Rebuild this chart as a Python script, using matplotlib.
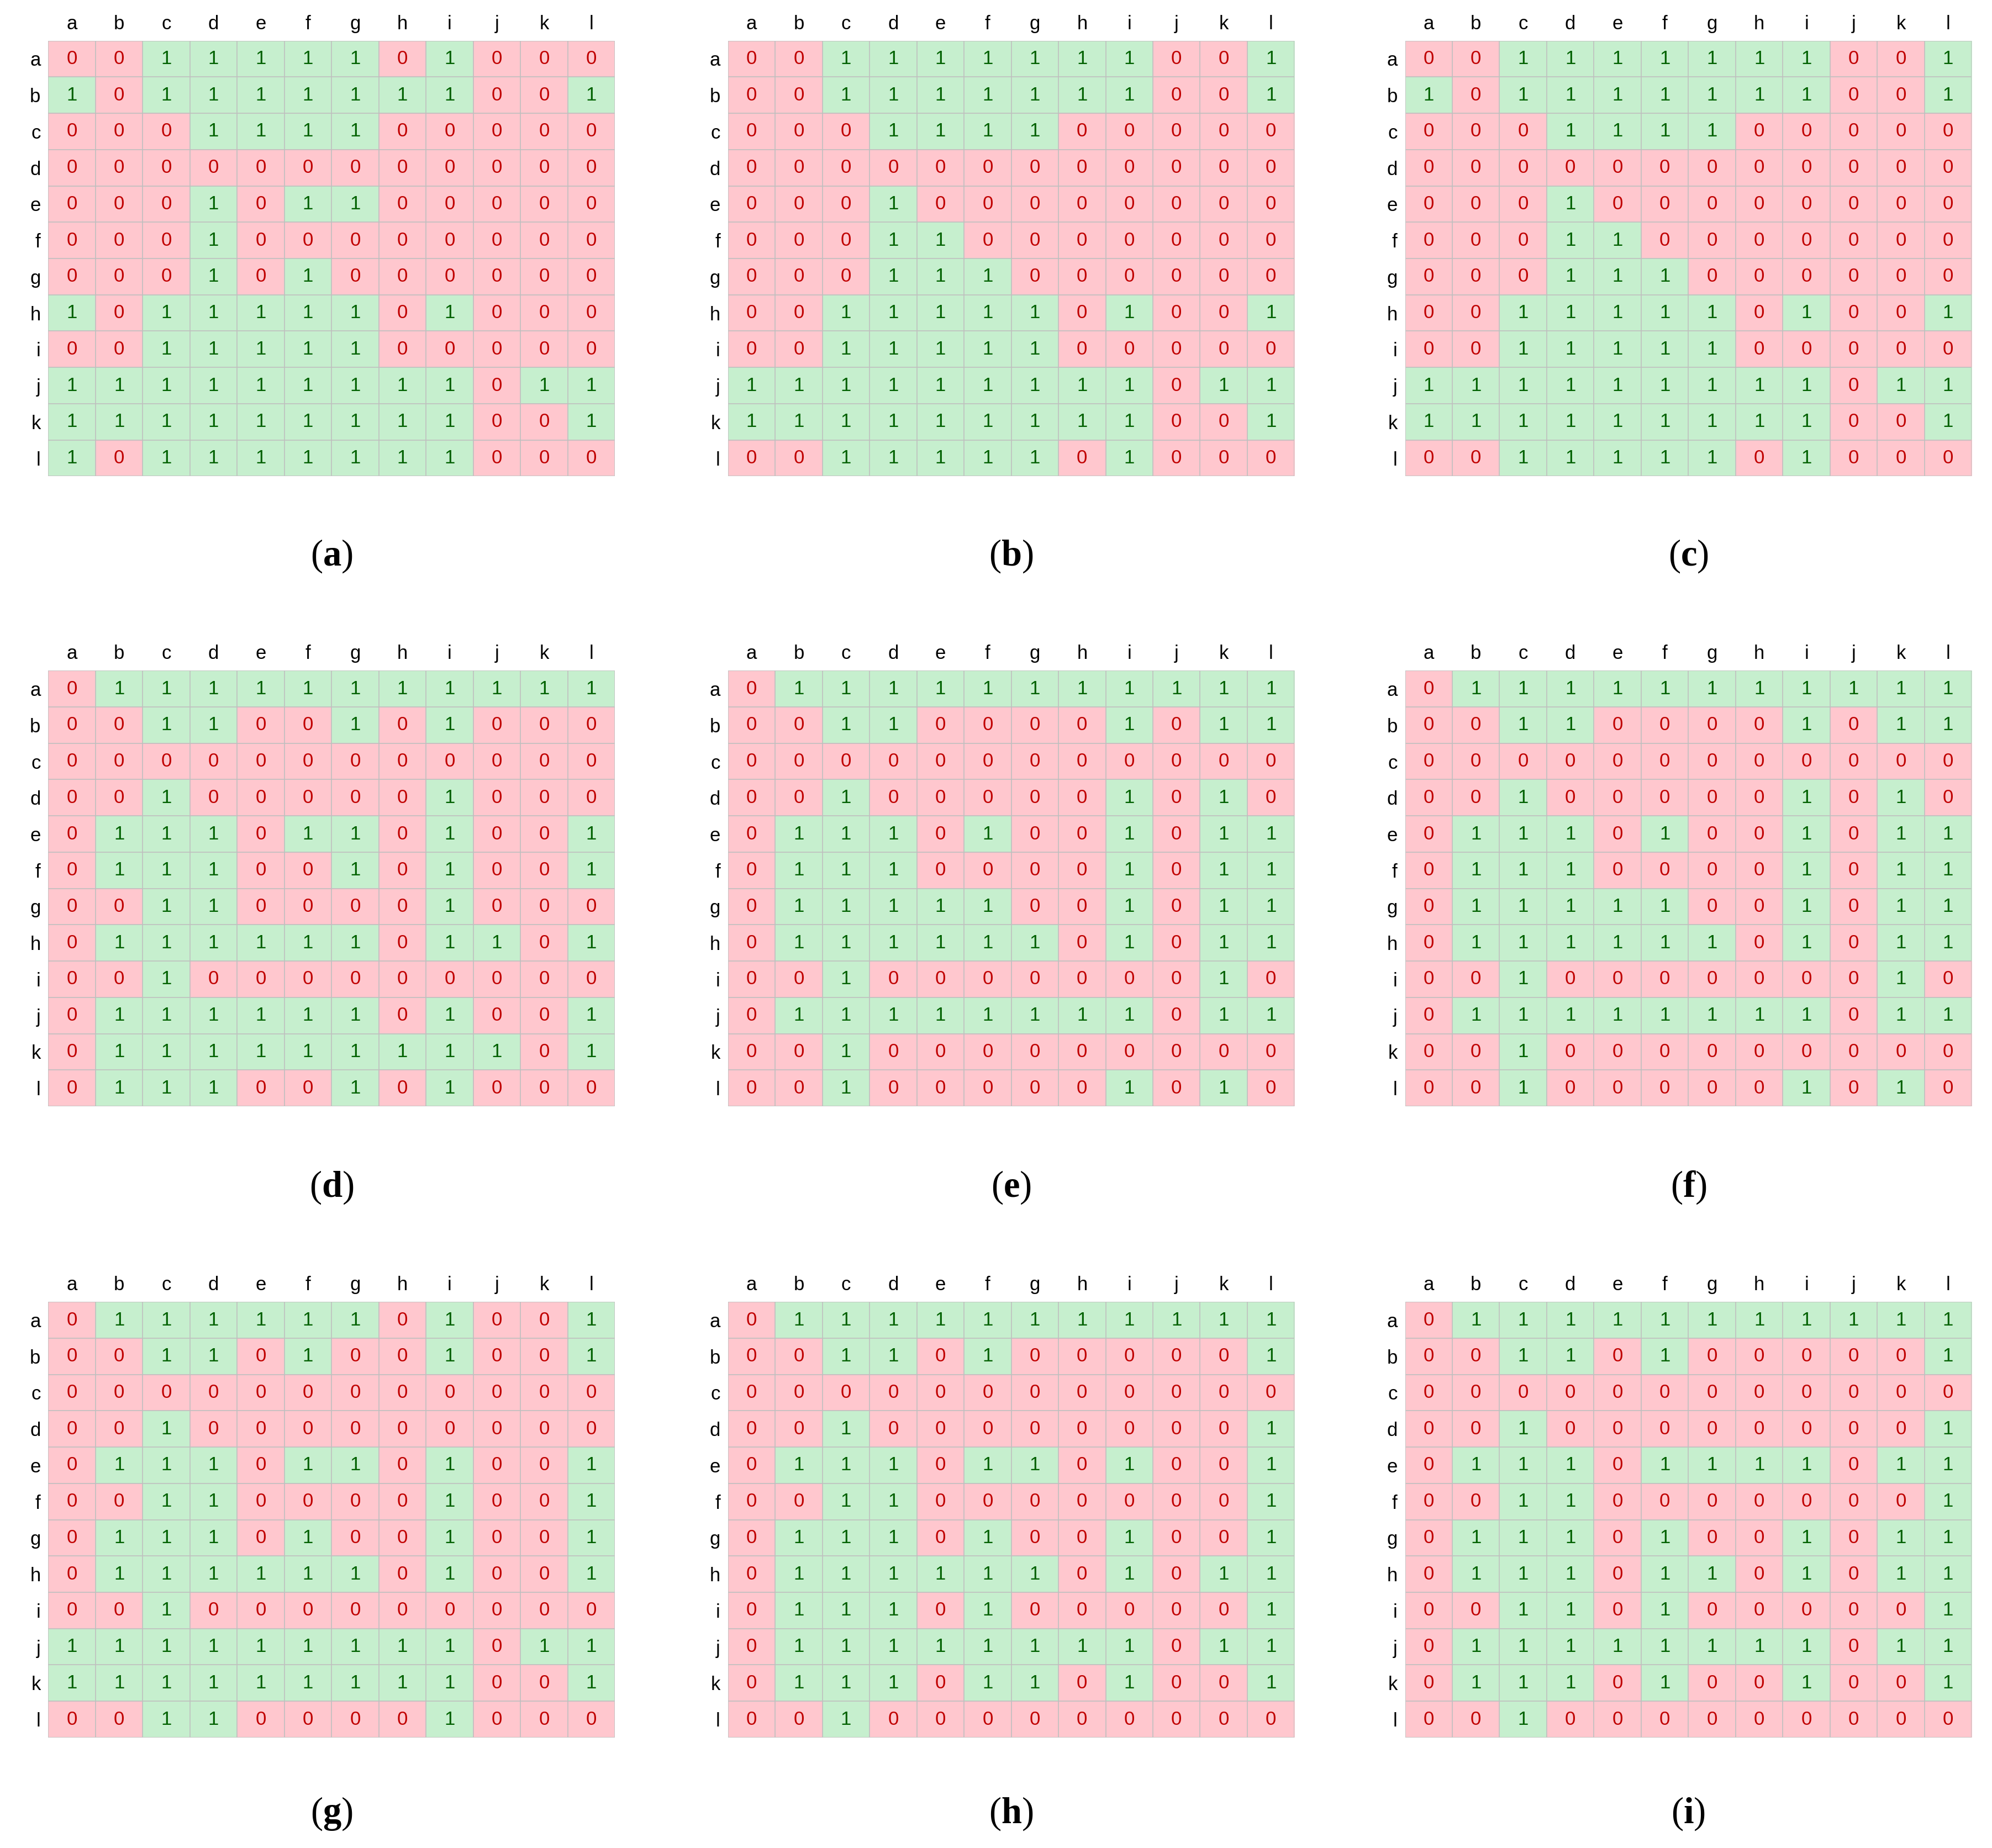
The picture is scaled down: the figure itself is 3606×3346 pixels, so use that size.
import matplotlib
matplotlib.use("Agg")
import matplotlib.pyplot as plt
import numpy as np
from matplotlib.colors import ListedColormap

labels = list("abcdefghijkl")
panel_names = ["a", "b", "c", "d", "e", "f", "g", "h", "i"]

A = ["001111101000","101111111001","000111100000","000000000000","000101100000","000100000000",
     "000101000000","101111101000","001111100000","111111111011","111111111001","101111111000"]
B = ["001111111001","001111111001","000111100000","000000000000","000100000000","000110000000",
     "000111000000","001111101001","001111100000","111111111011","111111111001","001111101000"]
C = ["001111111001","101111111001","000111100000","000000000000","000100000000","000110000000",
     "000111000000","001111101001","001111100000","111111111011","111111111001","001111101000"]
D = ["011111111111","001100101000","000000000000","001000001000","011101101001","011100101001",
     "001100001000","011111101101","001000000000","011111101001","011111111101","011100101000"]
E = ["011111111111","001100001011","000000000000","001000001010","011101001011","011100001011",
     "011111001011","011111101011","001000000010","011111111011","001000000000","001000001010"]
F = list(E)
G = ["011111101001","001101001001","000000000000","001000000000","011101101001","001100001001",
     "011101001001","011111101001","001000000000","111111111011","111111111001","001100001000"]
H = ["011111111111","001101000001","000000000000","001000000001","011101101001","001100000001",
     "011101001001","011111101011","011101000001","011111111011","011101101001","001000000000"]
I = ["011111111111","001101000001","000000000000","001000000001","011101111011","001100000001",
     "011101001011","011101101011","001101000001","011111111011","011101001001","001000000000"]
matrices = [A, B, C, D, E, F, G, H, I]

W, Hpx = 1568, 1455
col_x = [38, 573, 1106]
row_y = [32, 528, 1025]
gw, gh = 446, 343
cap_y = [438, 935, 1428]

plt.rcParams['mathtext.fontset'] = 'custom'
plt.rcParams['mathtext.bf'] = 'Liberation Serif:bold'

fig = plt.figure(figsize=(36.06, 33.46), dpi=100)
cmap = ListedColormap(["#FFC7CE", "#C6EFCE"])
for k, (name, mat) in enumerate(zip(panel_names, matrices)):
    r, c = divmod(k, 3)
    m = np.array([[int(ch) for ch in row] for row in mat])
    ax = fig.add_axes([col_x[c] / W, 1 - (row_y[r] + gh) / Hpx, gw / W, gh / Hpx])
    ax.imshow(m, cmap=cmap, vmin=0, vmax=1, aspect='auto')
    for i in range(12):
        for j in range(12):
            ax.text(j, i, str(m[i, j]), ha='center', va='center', fontsize=25,
                    color="#006100" if m[i, j] else "#C00000", family="Liberation Sans")
    ax.set_xticks(np.arange(12))
    ax.set_yticks(np.arange(12))
    ax.set_xticklabels(labels, fontsize=25, family="Liberation Sans")
    ax.set_yticklabels(labels, fontsize=25, family="Liberation Sans")
    ax.xaxis.tick_top()
    ax.tick_params(length=0, pad=10)
    ax.set_xticks(np.arange(-0.5, 12, 1), minor=True)
    ax.set_yticks(np.arange(-0.5, 12, 1), minor=True)
    ax.grid(which='minor', color='#BFBFBF', linewidth=1.2)
    ax.tick_params(which='minor', length=0)
    for s in ax.spines.values():
        s.set_visible(False)
    fig.text((col_x[c] + gw / 2) / W, 1 - cap_y[r] / Hpx, r"($\mathbf{%s}$)" % name,
             ha='center', va='center', fontsize=48, family="Liberation Serif")

fig.savefig("out.png", dpi=100, facecolor="white")
